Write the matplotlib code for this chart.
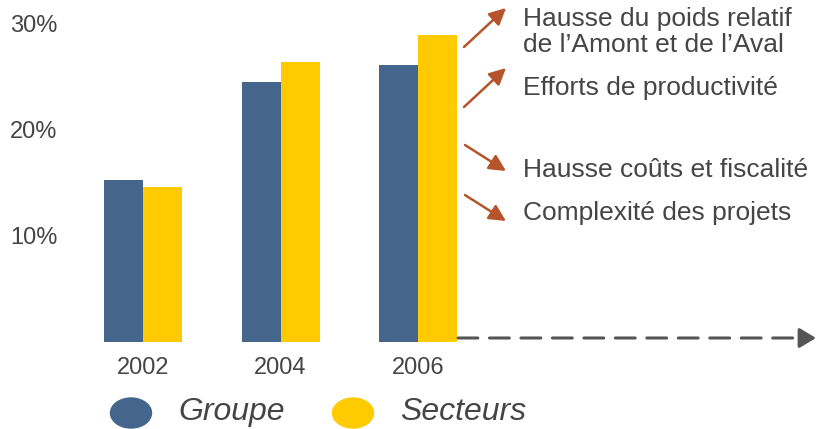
import numpy as np
import matplotlib
matplotlib.use("Agg")
import matplotlib.pyplot as plt
from matplotlib.patches import Ellipse

plt.rcParams["font.family"] = ["Liberation Sans", "DejaVu Sans"]

# Data
years = ["2002", "2004", "2006"]
groupe = [15.3, 24.5, 26.1]
secteurs = [14.6, 26.4, 29.0]
ytick_vals = [10, 20, 30]
up_labels = ["Hausse du poids relatif\nde l\u2019Amont et de l\u2019Aval", "Efforts de productivit\u00e9"]
down_labels = ["Hausse co\u00fbts et fiscalit\u00e9", "Complexit\u00e9 des projets"]

BLUE = "#44658c"
YELLOW = "#ffcb00"
TEXT = "#454545"
ARROW = "#b5532a"

W, H = 816, 429
fig = plt.figure(figsize=(W / 100, H / 100), dpi=100)

# axes placed in pixel terms: left 60, right 816, bottom y=342, top y=10
ax = fig.add_axes([60 / W, (H - 342) / H, (W - 60) / W, (342 - 10) / H])
step = 137.5
x = np.arange(len(years))
bw = 39 / step
ax.bar(x - bw / 2, groupe, bw, color=BLUE, label="Groupe")
ax.bar(x + bw / 2, secteurs, bw, color=YELLOW, label="Secteurs")
ax.set_xlim((60 - 143) / step, (816 - 143) / step)
ax.set_ylim(0, (342 - 10) / 10.6)

ax.set_yticks(ytick_vals)
ax.set_yticklabels([f"{v}%" for v in ytick_vals], fontsize=17, color=TEXT)
ax.set_xticks(x)
ax.set_xticklabels(years, fontsize=17, color=TEXT)
ax.tick_params(length=0)
ax.tick_params(axis="x", pad=11)
ax.tick_params(axis="y", pad=2)
for s in ax.spines.values():
    s.set_visible(False)

def fp(px, py):
    return (px, H - py)

# dashed line along the baseline, then a solid head
ax.annotate("", xy=fp(803, 338), xytext=fp(458, 338),
            xycoords="figure pixels", textcoords="figure pixels",
            arrowprops=dict(arrowstyle="-", color="#555555", lw=2.2,
                            linestyle=(0, (6.5, 3.8)), shrinkA=0, shrinkB=0))
ax.annotate("", xy=fp(816, 338), xytext=fp(801, 338),
            xycoords="figure pixels", textcoords="figure pixels",
            arrowprops=dict(arrowstyle="-|>,head_length=0.5,head_width=0.3",
                            mutation_scale=20, color="#555555", lw=2.2,
                            shrinkA=0, shrinkB=0))

# brown arrows with explanations
arrows = [((464, 47), (506, 8)), ((464, 107), (506, 68)),
          ((465, 145), (506, 171)), ((465, 195), (506, 221))]
for start, end in arrows:
    ax.annotate("", xy=fp(*end), xytext=fp(*start),
                xycoords="figure pixels", textcoords="figure pixels",
                arrowprops=dict(arrowstyle="-|>,head_length=0.5,head_width=0.25",
                                mutation_scale=20,
                                color=ARROW, lw=1.8, shrinkA=0, shrinkB=0))

labels = up_labels + down_labels
label_y = [32, 88, 170, 213]
for lab, ly in zip(labels, label_y):
    fig.text(523 / W, 1 - ly / H, lab, fontsize=19, color=TEXT,
             ha="left", va="center", linespacing=1.1)

# legend drawn by hand
for cx, col in [(131, BLUE), (353, YELLOW)]:
    e = Ellipse((cx / W, 1 - 413 / H), 41 / W, 30 / H, transform=fig.transFigure,
                color=col)
    fig.patches.append(e)
fig.text(178 / W, 1 - 412 / H, "Groupe", fontsize=23, style="italic",
         color=TEXT, va="center", ha="left")
fig.text(400 / W, 1 - 412 / H, "Secteurs", fontsize=23, style="italic",
         color=TEXT, va="center", ha="left")

fig.savefig("out.png", dpi=100)
